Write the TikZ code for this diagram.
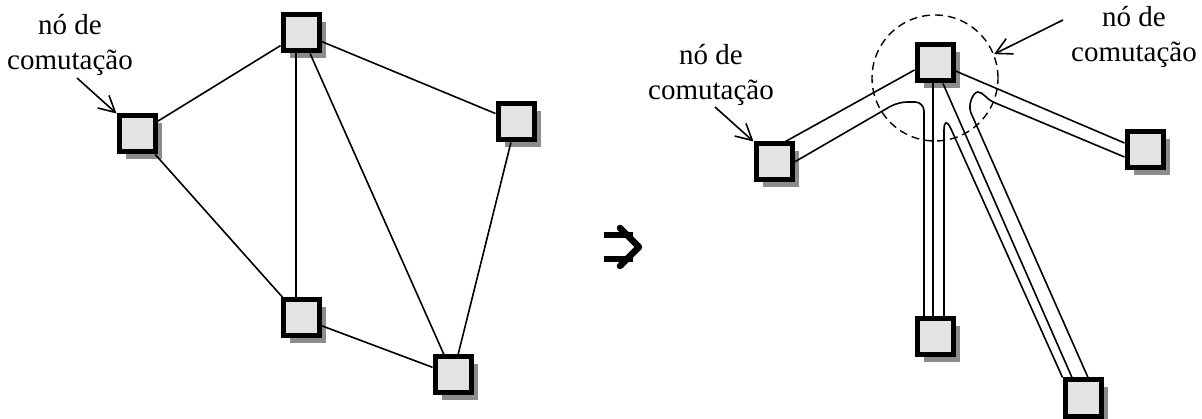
\documentclass[tikz,border=0pt]{standalone}
\usepackage{fontspec}
\setmainfont{Liberation Serif}
\usetikzlibrary{shadows,arrows.meta,calc}
\begin{document}
\begin{tikzpicture}[x=1pt,y=-1pt,
  sw/.style={draw=black,line width=5pt,fill=gray!22,minimum size=36pt,inner sep=0pt,
    drop shadow={shadow xshift=7pt,shadow yshift=-7pt,fill=black!45,opacity=1}},
  edge/.style={line width=1.6pt},
  lbl/.style={font=\fontsize{29}{35}\selectfont,align=center,anchor=base,inner sep=0pt},
  pointer/.style={line width=1.6pt,-{Straight Barb[length=16pt,width=17pt,line width=1.6pt]}},
  ring/.style={draw,circle,line width=1.4pt,dash pattern=on 8pt off 5pt,minimum size=126pt,inner sep=0pt},
  fat/.style={line width=6.5pt}
]
\useasboundingbox (0,0) rectangle (1202,419);
% ---------- left network ----------
\node[sw] (A) at (137,134) {};
\node[sw] (B) at (301,33) {};
\node[sw] (C) at (516,122) {};
\node[sw] (D) at (301,318) {};
\node[sw] (E) at (453,375) {};
\draw[edge] (A) -- (B);
\draw[edge] (A) -- (D);
\draw[edge] ([xshift=-5pt]B.south) -- ([xshift=-5pt]D.north);
\draw[edge] (B) -- (E);
\draw[edge] (B) -- (C);
\draw[edge] (C) -- (E);
\draw[edge] (D) -- (E);
\node[lbl] (l1) at (70,70) {nó de\\comutação};
\coordinate (l1a) at (77,78);
\draw[pointer] (l1a) -- (A.north west);
% ---------- implication ----------
\coordinate (impA) at (604,235);
\coordinate (impB) at (633,235);
\coordinate (impC) at (604,259);
\coordinate (impD) at (633,259);
\coordinate (impT) at (620,228);
\coordinate (impM) at (639,247);
\coordinate (impU) at (620,266);
\draw[fat] (impA) -- (impB);
\draw[fat] (impC) -- (impD);
\draw[fat,line join=round,line cap=round] (impT) -- (impM) -- (impU);
% ---------- right network ----------
\node[sw] (R0) at (935,63) {};
\node[sw] (R1) at (774,162) {};
\node[sw] (R2) at (1145,150) {};
\node[sw] (R3) at (935,337) {};
\node[sw] (R4) at (1083,398) {};
\draw[edge] ($(R1.north east)+(-9,0)$) -- ($(R0.west)+(0,7)$);
\draw[edge,rounded corners=9pt] (R1.east) -- (898,102) -- (924,102) -- ($(R3.north)+(-11,0)$);
\draw[edge] ($(R0.south)+(-2,0)$) -- ($(R3.north)+(-2,0)$);
\draw[edge] ($(R3.north)+(9,0)$) -- (944,130) .. controls (944,121) and (947,120) .. (951,129) -- (R4.north west);
\draw[edge] ($(R0.south)+(8,0)$) -- ($(R4.north)+(-11,0)$);
\draw[edge] ($(R4.north)+(5,0)$) -- (971,113) .. controls (967.5,105) and (973,92) .. (978,92)
   .. controls (983,92) and (987,99.5) .. (993,102) -- ($(R2.west)+(0,7)$);
\draw[edge] ($(R0.east)+(0,8)$) -- ($(R2.west)+(0,-7)$);
\node[ring] (zone) at (935,78) {};
\node[lbl] (l2) at (711,100) {nó de\\comutação};
\coordinate (l2a) at (715,107);
\draw[pointer] (l2a) -- (R1.north west);
\node[lbl] (l3) at (1134,62) {nó de\\comutação};
\coordinate (l3a) at (1063,20);
\draw[pointer] (l3a) -- (zone.22);
\end{tikzpicture}
\end{document}
